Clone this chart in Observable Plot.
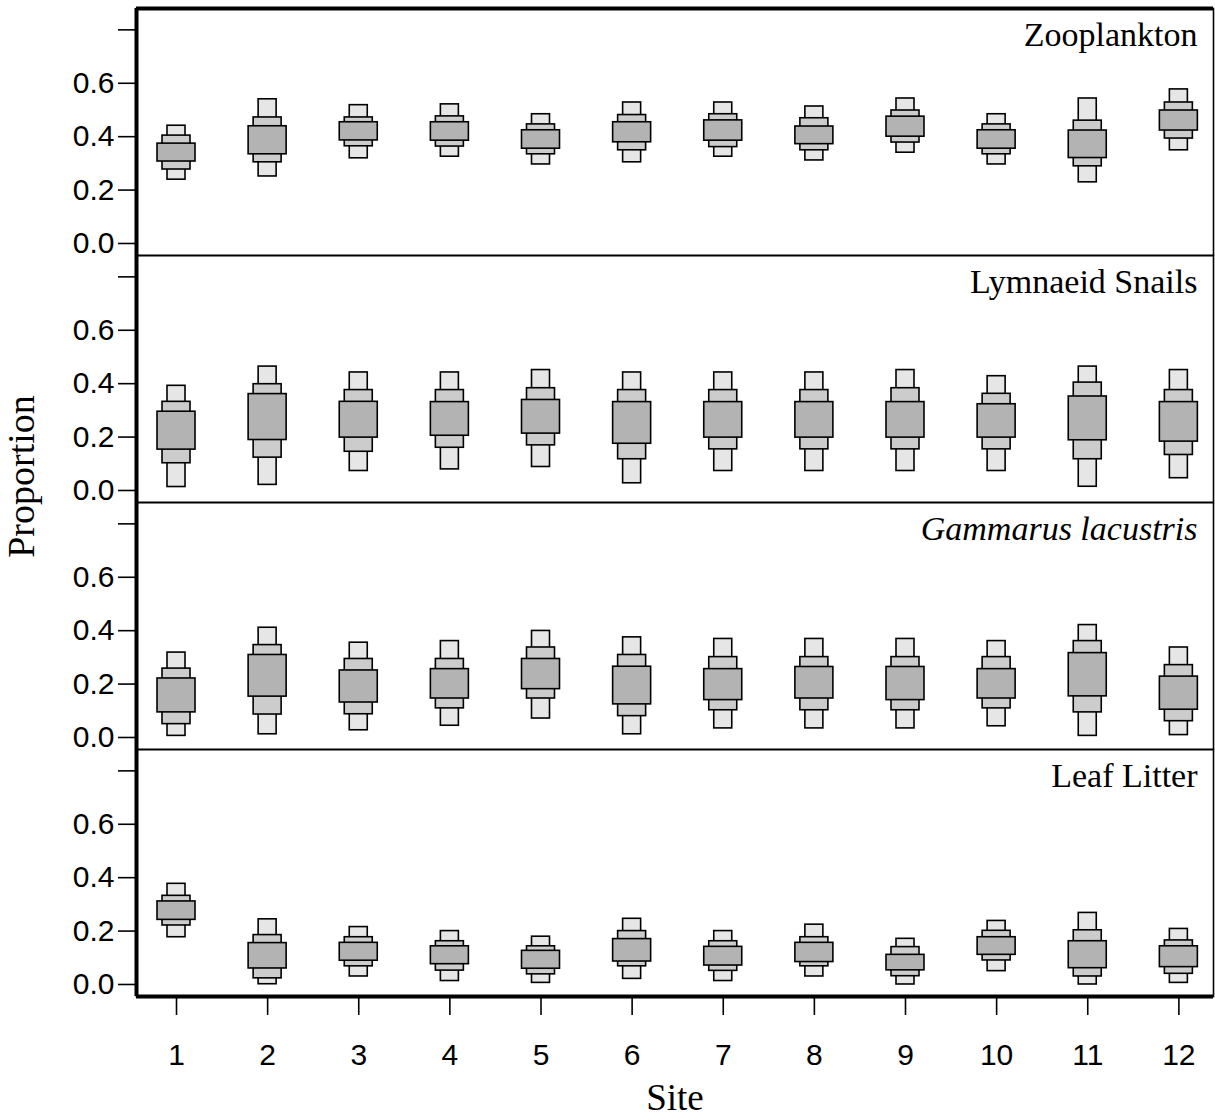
<!DOCTYPE html>
<html>
<head>
<meta charset="utf-8">
<script src="https://cdn.jsdelivr.net/npm/d3@7"></script>
<script src="https://cdn.jsdelivr.net/npm/@observablehq/plot@0.6"></script>
<style>
  body { margin: 0; background: #ffffff; }
  #chart { width: 1215px; height: 1120px; }
</style>
</head>
<body>
<div id="chart"></div>
<script>
// Categories
const sites = [1, 2, 3, 4, 5, 6, 7, 8, 9, 10, 11, 12];
const taxa = ["Zooplankton", "Lymnaeid Snails", "Gammarus lacustris", "Leaf Litter"];
const yTicks = [0, 0.2, 0.4, 0.6, 0.8];

// Per site: [outerLo, midLo, innerLo, innerHi, midHi, outerHi]
const zooplankton = [
  [0.239, 0.277, 0.307, 0.374, 0.404, 0.441],
  [0.251, 0.304, 0.334, 0.439, 0.472, 0.540],
  [0.319, 0.364, 0.386, 0.454, 0.472, 0.518],
  [0.325, 0.363, 0.385, 0.454, 0.476, 0.521],
  [0.296, 0.334, 0.355, 0.424, 0.446, 0.484],
  [0.304, 0.349, 0.379, 0.454, 0.481, 0.528],
  [0.325, 0.361, 0.385, 0.461, 0.484, 0.528],
  [0.311, 0.349, 0.372, 0.438, 0.469, 0.513],
  [0.340, 0.378, 0.400, 0.475, 0.498, 0.543],
  [0.296, 0.334, 0.355, 0.424, 0.446, 0.484],
  [0.229, 0.289, 0.320, 0.423, 0.460, 0.543],
  [0.349, 0.393, 0.423, 0.498, 0.528, 0.577]
];
const lymnaeid = [
  [0.013, 0.102, 0.153, 0.295, 0.332, 0.392],
  [0.021, 0.123, 0.189, 0.361, 0.398, 0.464],
  [0.073, 0.145, 0.198, 0.332, 0.376, 0.442],
  [0.079, 0.160, 0.205, 0.331, 0.376, 0.442],
  [0.088, 0.169, 0.213, 0.339, 0.383, 0.451],
  [0.027, 0.117, 0.175, 0.331, 0.376, 0.442],
  [0.073, 0.154, 0.198, 0.331, 0.376, 0.442],
  [0.073, 0.154, 0.198, 0.331, 0.376, 0.442],
  [0.073, 0.154, 0.198, 0.331, 0.383, 0.451],
  [0.073, 0.154, 0.198, 0.323, 0.362, 0.428],
  [0.014, 0.117, 0.188, 0.352, 0.404, 0.464],
  [0.046, 0.133, 0.183, 0.331, 0.376, 0.451]
];
const gammarus = [
  [0.006, 0.050, 0.094, 0.221, 0.258, 0.318],
  [0.012, 0.086, 0.153, 0.309, 0.346, 0.411],
  [0.027, 0.087, 0.131, 0.251, 0.294, 0.355],
  [0.044, 0.109, 0.146, 0.256, 0.294, 0.361],
  [0.071, 0.146, 0.181, 0.294, 0.337, 0.399],
  [0.012, 0.080, 0.124, 0.265, 0.309, 0.375],
  [0.034, 0.102, 0.140, 0.256, 0.301, 0.369],
  [0.034, 0.102, 0.146, 0.264, 0.301, 0.369],
  [0.034, 0.102, 0.140, 0.264, 0.301, 0.369],
  [0.042, 0.109, 0.146, 0.256, 0.301, 0.361],
  [0.006, 0.094, 0.154, 0.316, 0.361, 0.421],
  [0.009, 0.061, 0.104, 0.228, 0.271, 0.337]
];
const leafLitter = [
  [0.177, 0.221, 0.242, 0.311, 0.332, 0.377],
  [0.001, 0.023, 0.060, 0.155, 0.185, 0.244],
  [0.030, 0.068, 0.089, 0.156, 0.177, 0.215],
  [0.013, 0.052, 0.076, 0.143, 0.162, 0.200],
  [0.006, 0.038, 0.059, 0.126, 0.143, 0.179],
  [0.021, 0.068, 0.086, 0.170, 0.200, 0.246],
  [0.013, 0.051, 0.071, 0.141, 0.162, 0.200],
  [0.030, 0.068, 0.084, 0.156, 0.177, 0.224],
  [0.000, 0.031, 0.053, 0.111, 0.140, 0.171],
  [0.050, 0.090, 0.111, 0.177, 0.201, 0.238],
  [0.000, 0.030, 0.061, 0.162, 0.203, 0.268],
  [0.006, 0.040, 0.065, 0.143, 0.165, 0.208]
];

const seriesByTaxon = [zooplankton, lymnaeid, gammarus, leafLitter];
const rows = taxa.flatMap((t, ti) => seriesByTaxon[ti].map((v, i) => ({
  taxon: t, site: sites[i],
  oLo: v[0], mLo: v[1], iLo: v[2], iHi: v[3], mHi: v[4], oHi: v[5]
})));

const xDomain = [0.561, 12.38];
const yDomain = [-0.045, 0.88];
const serif = "'Liberation Serif', 'Times New Roman', Times, serif";
const sans = "'Liberation Sans', Arial, Helvetica, sans-serif";

const boxStyle = { fy: "taxon", x1: "site", x2: "site", stroke: "black", strokeWidth: 1.6 };

const chart = Plot.plot({
  width: 1215,
  height: 1120,
  marginLeft: 136,
  marginRight: 2,
  marginTop: 7,
  marginBottom: 123,
  style: { fontFamily: sans, fontSize: "30px", background: "white", color: "black", overflow: "visible" },
  x: { domain: xDomain },
  y: { domain: yDomain },
  fy: { domain: taxa, padding: 0, axis: null },
  marks: [
    Plot.rect(rows, { ...boxStyle, y1: "oLo", y2: "oHi", insetLeft: -9, insetRight: -9, fill: "#e6e6e6" }),
    Plot.rect(rows, { ...boxStyle, y1: "mLo", y2: "mHi", insetLeft: -14, insetRight: -14, fill: "#cccccc" }),
    Plot.rect(rows, { ...boxStyle, y1: "iLo", y2: "iHi", insetLeft: -19, insetRight: -19, fill: "#b3b3b3" }),
    Plot.frame({ stroke: "black", strokeWidth: 1.6 }),
    Plot.ruleX([xDomain[0]], { stroke: "black", strokeWidth: 4 }),
    Plot.ruleY([taxa[3]], { fy: d => d, y: () => yDomain[0], stroke: "black", strokeWidth: 4 }),
    Plot.ruleY([taxa[0]], { fy: d => d, y: () => yDomain[1], stroke: "black", strokeWidth: 4 }),
    Plot.axisY({
      ticks: yTicks,
      tickFormat: d => (d === 0.8 ? "" : d.toFixed(1)),
      tickSize: 18, tickPadding: 4, label: null,
      fontSize: 30, strokeWidth: 1.6
    }),
    Plot.axisX({
      ticks: sites,
      tickFormat: d => String(d),
      tickSize: 19, tickPadding: 28, label: null,
      fontSize: 30, strokeWidth: 1.6
    }),
    Plot.text(taxa.filter(t => t !== "Gammarus lacustris"), {
      fy: d => d, text: d => d, frameAnchor: "top-right", textAnchor: "end",
      lineAnchor: "top", dx: -16, dy: 13, fontFamily: serif, fontSize: 34
    }),
    Plot.text(taxa.filter(t => t === "Gammarus lacustris"), {
      fy: d => d, text: d => d, frameAnchor: "top-right", textAnchor: "end",
      lineAnchor: "top", dx: -16, dy: 13, fontFamily: serif, fontSize: 34, fontStyle: "italic"
    }),
    Plot.text(["Proportion"], {
      fy: () => taxa[1], text: d => d, frameAnchor: "bottom-left", rotate: -90,
      textAnchor: "middle", lineAnchor: "middle", dx: -115, dy: -26, fontFamily: serif, fontSize: 38
    }),
    Plot.text(["Site"], {
      fy: () => taxa[3], text: d => d, frameAnchor: "bottom", textAnchor: "middle",
      lineAnchor: "middle", dy: 102, fontFamily: serif, fontSize: 37
    })
  ]
});

document.getElementById("chart").appendChild(chart);
</script>
</body>
</html>
